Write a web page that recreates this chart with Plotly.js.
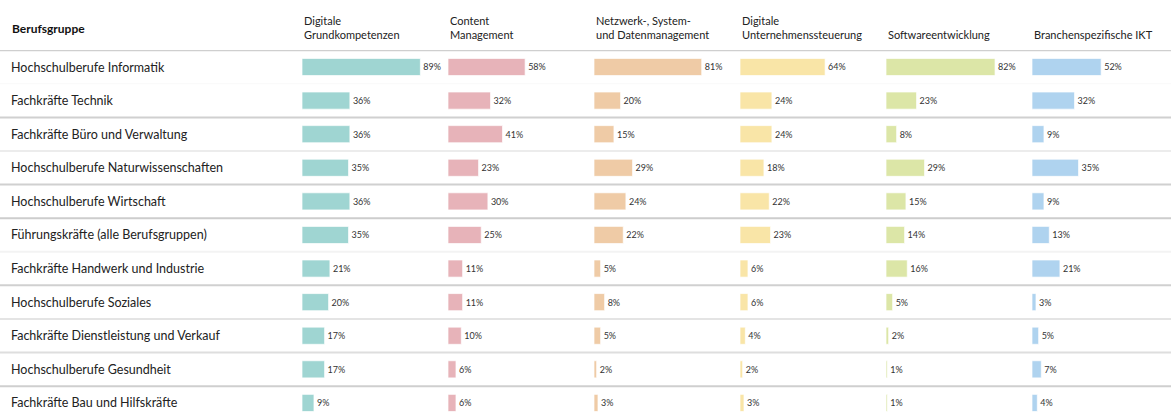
<!DOCTYPE html>
<html>
<head>
<meta charset="utf-8">
<script src="https://cdn.plot.ly/plotly-3.0.1.min.js"></script>
<style>html,body{margin:0;padding:0;background:#fff;}#chart{width:1171px;height:413px;}</style>
</head>
<body>
<div id="chart"></div>
<script>
const rowTitle = "Berufsgruppe";
const categories = [
  "Hochschulberufe Informatik",
  "Fachkräfte Technik",
  "Fachkräfte Büro und Verwaltung",
  "Hochschulberufe Naturwissenschaften",
  "Hochschulberufe Wirtschaft",
  "Führungskräfte (alle Berufsgruppen)",
  "Fachkräfte Handwerk und Industrie",
  "Hochschulberufe Soziales",
  "Fachkräfte Dienstleistung und Verkauf",
  "Hochschulberufe Gesundheit",
  "Fachkräfte Bau und Hilfskräfte"
];
const columnTitles = [
  "Digitale<br>Grundkompetenzen",
  "Content<br>Management",
  "Netzwerk-, System-<br>und Datenmanagement",
  "Digitale<br>Unternehmenssteuerung",
  "Softwareentwicklung",
  "Branchenspezifische IKT"
];
const digitaleGrundkompetenzen = [89, 36, 36, 35, 36, 35, 21, 20, 17, 17, 9];
const contentManagement        = [58, 32, 41, 23, 30, 25, 11, 11, 10, 6, 6];
const netzwerkSystemDaten      = [81, 20, 15, 29, 24, 22, 5, 8, 5, 2, 3];
const unternehmenssteuerung    = [64, 24, 24, 18, 22, 23, 6, 6, 4, 2, 3];
const softwareentwicklung      = [82, 23, 8, 29, 15, 14, 16, 5, 2, 1, 1];
const branchenspezifischeIKT   = [52, 32, 9, 35, 9, 13, 21, 3, 5, 7, 4];

const series = [digitaleGrundkompetenzen, contentManagement, netzwerkSystemDaten,
                unternehmenssteuerung, softwareentwicklung, branchenspezifischeIKT];
const colors = ["#9fd5d2", "#e7b3b9", "#efcba6", "#f9e5a7", "#dce6a7", "#afd3ef"];

const W = 1171;
const colStart = 302, colStep = 146, colWidth = 133;
const font = "Lato, 'Open Sans', sans-serif";

const data = [];
const layout = {
  width: W, height: 413,
  margin: {l: 0, r: 0, t: 50, b: 0, pad: 0},
  paper_bgcolor: "#fff", plot_bgcolor: "rgba(0,0,0,0)",
  showlegend: false,
  bargap: 0.49,
  font: {family: font, color: "#222"},
  yaxis: {
    type: "category", categoryarray: categories, categoryorder: "array",
    range: [10.3, -0.506], showticklabels: false, showgrid: false,
    zeroline: false, showline: false, ticks: "", fixedrange: true
  },
  annotations: [],
  shapes: []
};

series.forEach((vals, i) => {
  const ax = i === 0 ? "" : String(i + 1);
  const x0 = (colStart + colStep * i) / W;
  const x1 = (colStart + colStep * i + colWidth) / W;
  layout["xaxis" + ax] = {
    domain: [x0, x1], range: [0, 100], showticklabels: false, showgrid: false,
    zeroline: false, showline: false, ticks: "", fixedrange: true, anchor: "y"
  };
  data.push({
    type: "bar", orientation: "h", x: vals, y: categories,
    xaxis: "x" + ax, yaxis: "y",
    marker: {color: colors[i], line: {color: "rgba(255,255,255,0.7)", width: 1}},
    text: vals.map(v => v + "%"), textposition: "outside",
    textfont: {size: 9, color: "#333", family: font},
    cliponaxis: false, hoverinfo: "skip"
  });
  layout.annotations.push({
    xref: "paper", yref: "paper", x: x0, y: 1, xanchor: "left", yanchor: "bottom",
    yshift: 7, xshift: 0, align: "left", showarrow: false,
    text: columnTitles[i], font: {size: 11, color: "#222", family: font}
  });
});

layout.annotations.push({
  xref: "paper", yref: "paper", x: 12 / W, y: 1, xanchor: "left", yanchor: "middle",
  yshift: 22, xshift: -2, showarrow: false, text: "<b>" + rowTitle + "</b>",
  font: {size: 12, color: "#111", family: font}
});

categories.forEach(c => {
  layout.annotations.push({
    xref: "paper", yref: "y", x: 12 / W, y: c, xanchor: "left", yanchor: "middle",
    xshift: -3, showarrow: false, text: c, font: {size: 12.5, color: "#222", family: font}
  });
});

// separator lines (between rows, index + 0.5)
const sepStyles = [
  [-0.5, "#cfcfcf", 2],
  [0.5, "#f9f9f9", 1],
  [1.5, "#d0d0d0", 2],
  [2.5, "#ececec", 2],
  [3.5, "#d0d0d0", 2],
  [4.5, "#cdcdcd", 2],
  [5.5, "#f3f3f3", 2],
  [6.5, "#d0d0d0", 2],
  [7.5, "#e4e4e4", 2],
  [8.5, "#dedede", 2],
  [9.5, "#cfcfcf", 2]
];
sepStyles.forEach(s => {
  layout.shapes.push({
    type: "line", xref: "paper", yref: "y", x0: 0, x1: 1, y0: s[0], y1: s[0],
    line: {color: s[1], width: s[2]}, layer: "below"
  });
});

Plotly.newPlot("chart", data, layout, {displayModeBar: false, staticPlot: true});
</script>
</body>
</html>
